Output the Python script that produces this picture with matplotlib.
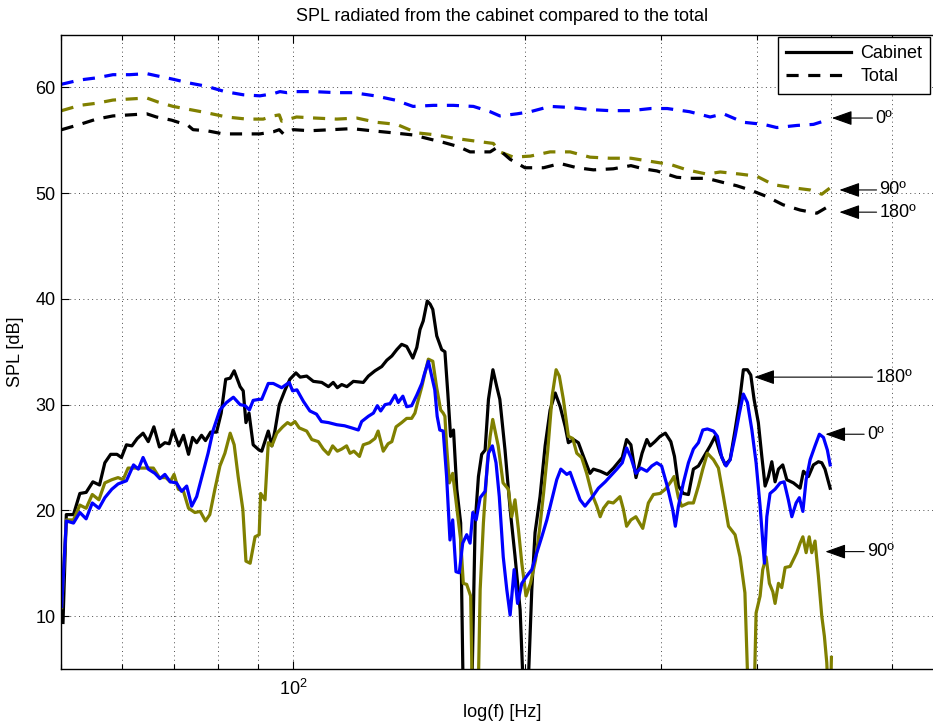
import matplotlib
matplotlib.use("Agg")
import matplotlib.pyplot as plt
from matplotlib.lines import Line2D
from matplotlib.ticker import LogLocator, NullFormatter, FixedLocator

plt.rcParams['font.family'] = ['Liberation Sans', 'DejaVu Sans']
plt.rcParams['mathtext.fontset'] = 'custom'
plt.rcParams['mathtext.rm'] = 'Liberation Sans'
plt.rcParams['mathtext.it'] = 'Liberation Sans:italic'

# ---------------- data (frequency in Hz, SPL in dB) ----------------
freq_cab180 = [50.3, 50.8, 51.9, 52.9, 53.9, 55.0, 56.1, 57.0, 58.0, 59.1,
               59.9, 60.8, 61.8, 62.8, 63.9, 64.9, 66.0, 67.1, 68.2, 69.1,
               69.9, 71.1, 72.1, 73.2, 74.1, 75.0, 76.1, 77.0, 78.2, 79.6,
               80.7, 81.8, 82.9, 83.9, 85.4, 86.2, 86.9, 87.7, 88.8, 90.4,
               91.1, 92.9, 93.9, 94.8, 96.0, 97.7, 99.1, 100.9, 102.2, 104.2,
               106.3, 109.0, 111.2, 112.8, 114.2, 115.7, 117.5, 119.8, 123.4, 125.3,
               127.8, 130.4, 132.4, 134.4, 136.4, 138.4, 140.5, 143.1, 144.8, 146.2,
               147.6, 149.4, 150.7, 151.9, 153.7, 156.0, 157.5, 158.9, 160.2, 161.6,
               163.2, 165.1, 166.4, 170.6, 172.4, 174.1, 175.8, 177.6, 179.4, 181.8,
               183.9, 185.6, 188.5, 191.4, 194.2, 197.2, 199.1, 201.9, 204.2, 206.2,
               209.3, 212.5, 215.7, 219.0, 222.3, 225.7, 227.8, 231.3, 234.7, 238.3,
               243.0, 245.5, 250.6, 255.8, 260.7, 267.6, 271.1, 274.6, 278.8, 283.9,
               288.0, 290.8, 295.0, 299.6, 304.4, 309.4, 312.8, 316.5, 321.2, 326.1,
               331.0, 336.0, 341.0, 348.0, 353.2, 358.6, 363.9, 369.4, 374.9, 379.8,
               384.3, 389.0, 392.9, 396.8, 401.9, 406.1, 410.1, 414.2, 418.4, 422.5,
               426.8, 432.3, 437.6, 446.3, 455.3, 459.9, 466.8, 473.8, 480.9, 485.8,
               490.5, 498.1]
spl_cab180 = [9.4, 19.6, 19.6, 21.6, 21.7, 22.7, 22.4, 24.5, 25.3, 25.3,
              25.0, 26.2, 26.1, 26.8, 27.3, 26.5, 27.9, 26.0, 26.4, 26.3,
              27.6, 26.1, 27.1, 25.3, 26.9, 26.4, 27.1, 26.6, 27.4, 27.4,
              29.2, 32.4, 32.5, 33.2, 31.7, 31.3, 28.3, 29.2, 26.2, 25.7,
              25.6, 27.5, 26.1, 27.6, 30.0, 31.4, 32.4, 33.0, 32.6, 32.7,
              32.2, 32.1, 31.7, 32.1, 31.6, 31.9, 31.7, 32.2, 32.1, 32.7,
              33.2, 33.6, 34.2, 34.6, 35.2, 35.7, 35.5, 34.4, 35.4, 37.1,
              37.9, 39.8, 39.5, 39.0, 36.5, 35.2, 35.0, 31.0, 27.0, 27.6,
              22.0, 18.8, 2.0, 2.0, 18.8, 23.2, 25.3, 25.7, 30.5, 33.3,
              31.7, 30.5, 25.7, 20.1, 15.7, 10.6, 3.0, 3.0, 12.5, 17.9,
              21.3, 26.1, 29.5, 31.1, 29.8, 27.9, 26.4, 26.7, 26.4, 25.1,
              23.5, 23.9, 23.7, 23.4, 24.0, 25.0, 26.7, 26.2, 23.1, 25.4,
              26.7, 26.1, 26.5, 27.0, 27.3, 26.5, 25.1, 22.3, 21.6, 21.5,
              23.9, 24.2, 25.0, 26.1, 27.0, 25.4, 24.3, 24.8, 27.6, 30.2,
              33.3, 33.3, 32.8, 30.5, 28.3, 25.1, 22.3, 23.2, 24.6, 22.7,
              23.9, 24.3, 22.9, 22.6, 22.1, 23.7, 23.2, 24.3, 24.6, 24.5,
              23.9, 22.1]

freq_cab0 = [50.1, 50.8, 51.9, 52.9, 53.9, 54.9, 56.0, 57.0, 58.2, 59.3,
             60.8, 62.1, 63.0, 63.9, 64.9, 66.2, 67.2, 68.2, 69.3, 70.6,
             71.7, 72.8, 73.9, 75.0, 76.5, 77.6, 78.8, 80.4, 82.0, 83.7,
             85.4, 86.7, 87.8, 88.8, 90.4, 91.1, 92.9, 94.3, 96.7, 98.9,
             99.9, 101.2, 103.2, 105.2, 107.3, 108.9, 111.2, 114.0, 116.7, 119.2,
             121.6, 122.8, 125.3, 127.2, 128.7, 130.0, 131.7, 133.7, 135.7, 137.0,
             138.9, 140.5, 142.6, 144.8, 147.0, 148.0, 149.9, 151.3, 152.8, 153.9,
             155.1, 156.7, 158.3, 159.9, 161.2, 162.8, 164.4, 166.1, 168.1, 169.8,
             171.2, 172.9, 175.0, 177.6, 179.4, 181.5, 183.5, 185.3, 187.5, 189.5,
             191.4, 193.7, 195.7, 198.2, 201.2, 204.2, 207.3, 210.4, 213.6, 216.8,
             220.0, 222.7, 226.7, 229.0, 232.4, 235.9, 239.4, 244.3, 249.2, 254.3,
             259.5, 263.3, 267.6, 271.1, 274.6, 278.7, 282.8, 288.0, 292.3, 296.7,
             301.0, 306.1, 311.1, 313.6, 316.5, 321.2, 326.1, 331.0, 336.0, 340.4,
             345.1, 351.4, 355.6, 360.3, 365.0, 369.4, 374.9, 379.8, 384.3, 389.0,
             394.2, 399.2, 404.0, 409.3, 412.2, 416.2, 422.5, 429.0, 434.1, 439.6,
             444.2, 449.9, 454.3, 459.1, 463.6, 469.2, 476.1, 482.3, 488.2, 494.0,
             498.1]
spl_cab0 = [10.9, 19.0, 18.8, 19.8, 19.2, 20.7, 20.2, 21.2, 22.0, 22.5,
            22.8, 24.3, 23.9, 25.0, 23.9, 23.5, 23.0, 23.4, 22.7, 22.6,
            21.8, 22.3, 20.4, 21.3, 23.7, 25.4, 27.6, 29.5, 30.2, 30.7,
            30.0, 29.9, 29.5, 30.4, 30.5, 30.5, 32.0, 32.0, 31.6, 32.1,
            31.3, 31.4, 30.3, 29.4, 29.1, 28.4, 28.3, 28.1, 28.0, 27.8,
            27.6, 28.4, 28.9, 29.2, 29.9, 29.4, 30.0, 30.1, 30.9, 30.2,
            30.8, 29.8, 29.9, 30.9, 32.0, 32.8, 34.1, 32.8, 31.4, 28.9,
            27.6, 27.5, 23.2, 17.2, 19.1, 14.2, 14.1, 16.9, 17.7, 16.9,
            19.8, 19.1, 21.2, 21.8, 25.4, 26.1, 24.5, 21.3, 15.6, 12.5,
            10.1, 14.4, 11.2, 13.1, 13.8, 14.4, 16.0, 17.5, 19.1, 21.0,
            22.9, 23.9, 23.4, 23.6, 22.3, 21.0, 20.4, 21.2, 22.1, 22.7,
            23.4, 23.9, 24.5, 25.9, 25.0, 23.5, 24.0, 23.7, 24.2, 24.5,
            24.2, 22.3, 20.1, 18.5, 20.4, 22.6, 24.5, 25.8, 26.4, 27.6,
            27.7, 27.5, 27.0, 25.0, 24.2, 24.8, 27.0, 29.2, 31.0, 30.2,
            27.6, 24.5, 20.4, 15.0, 19.4, 21.6, 22.0, 22.6, 22.7, 21.0,
            19.4, 20.7, 21.2, 19.9, 22.9, 24.8, 26.1, 27.2, 26.9, 25.7,
            24.3]

freq_cab90 = [50.1, 50.8, 51.9, 52.9, 53.9, 54.9, 56.0, 57.0, 58.2, 59.3,
              60.2, 61.1, 62.4, 63.9, 65.9, 67.1, 68.4, 69.3, 70.1, 71.0,
              72.1, 73.2, 74.6, 75.8, 77.0, 78.0, 79.2, 80.4, 81.6, 82.9,
              83.9, 84.9, 86.1, 86.9, 88.0, 89.3, 90.4, 90.8, 92.0, 92.9,
              93.9, 95.3, 97.0, 98.4, 99.4, 100.6, 101.9, 104.2, 105.8, 107.9,
              109.5, 111.2, 112.6, 114.2, 115.7, 117.4, 118.6, 120.0, 122.0, 123.4,
              125.7, 127.8, 129.0, 131.0, 132.9, 134.4, 136.1, 138.4, 140.5, 142.6,
              144.0, 145.5, 147.0, 148.4, 149.9, 151.9, 153.6, 155.5, 156.7, 157.5,
              158.3, 159.6, 161.2, 163.1, 165.1, 166.4, 168.1, 170.1, 171.0, 173.9,
              175.0, 176.7, 178.8, 180.3, 181.7, 182.9, 184.7, 187.4, 190.4, 192.3,
              194.2, 196.2, 198.2, 200.7, 203.4, 206.5, 209.0, 211.5, 214.2, 217.0,
              219.6, 221.7, 224.4, 227.8, 230.8, 233.6, 237.0, 240.6, 244.3, 248.0,
              250.5, 253.0, 256.7, 260.5, 265.8, 268.5, 271.1, 274.6, 278.7, 284.5,
              289.3, 293.7, 299.6, 304.4, 309.4, 312.4, 316.5, 319.6, 326.1, 331.0,
              336.0, 340.4, 345.1, 351.4, 356.7, 362.1, 367.6, 374.9, 380.5, 386.1,
              390.1, 396.8, 399.2, 404.0, 407.2, 411.3, 415.4, 419.7, 422.5, 426.8,
              431.0, 435.4, 441.9, 447.3, 450.8, 455.3, 459.1, 463.6, 467.9, 471.5,
              476.1, 480.9, 485.8, 489.6, 493.1, 495.7, 498.5, 500.0]
spl_cab90 = [10.8, 19.1, 19.1, 20.5, 20.2, 21.5, 21.0, 22.6, 22.9, 23.1,
             22.9, 24.0, 24.0, 24.0, 24.0, 23.1, 23.1, 22.7, 23.4, 22.0,
             21.8, 20.2, 19.8, 19.9, 19.0, 19.6, 22.0, 24.2, 25.4, 27.3,
             26.2, 23.2, 20.1, 15.2, 15.0, 17.5, 17.7, 21.6, 21.0, 26.4,
             26.1, 27.3, 27.9, 28.3, 28.1, 28.4, 27.8, 27.5, 26.7, 26.5,
             25.8, 25.3, 26.1, 25.6, 25.8, 26.1, 25.4, 25.6, 25.1, 26.2,
             26.4, 26.8, 27.5, 25.6, 26.3, 26.5, 27.9, 28.3, 28.7, 28.7,
             29.2, 30.5, 31.7, 33.0, 34.3, 34.1, 31.7, 29.5, 29.2, 28.9,
             26.1, 22.6, 23.5, 20.4, 17.2, 13.1, 13.0, 11.9, 2.0, 2.0,
             12.5, 18.8, 24.5, 27.0, 28.6, 27.6, 26.1, 22.6, 22.0, 19.4,
             21.0, 18.2, 15.0, 11.9, 13.1, 15.3, 18.2, 21.6, 25.7, 30.8,
             33.3, 32.7, 30.5, 27.0, 26.8, 25.4, 25.0, 23.5, 21.6, 20.4,
             19.4, 20.2, 20.8, 20.7, 21.3, 20.1, 18.5, 19.1, 19.4, 18.3,
             20.7, 21.5, 21.6, 22.0, 22.7, 23.2, 21.2, 20.4, 20.7, 20.7,
             22.3, 23.9, 25.4, 24.8, 24.0, 21.3, 18.5, 17.7, 15.6, 12.2,
             2.0, 2.0, 10.3, 11.9, 14.4, 15.6, 13.1, 12.3, 11.2, 13.1,
             12.7, 14.6, 14.7, 15.5, 16.0, 16.9, 17.5, 16.0, 17.5, 16.0,
             17.1, 13.8, 10.0, 8.1, 5.6, 2.0, 2.0, 6.1]

freq_tot0 = [50.1, 52.9, 55.6, 58.4, 61.4, 64.6, 66.5, 69.6, 73.5, 77.3,
             81.6, 86.2, 90.6, 94.3, 96.2, 98.2, 100.6, 106.3, 114.0, 119.8,
             127.8, 135.7, 143.2, 152.1, 161.5, 171.5, 180.3, 185.6, 195.4, 203.3,
             215.7, 229.0, 243.0, 257.8, 274.6, 291.4, 306.1, 327.2, 348.0, 362.1,
             384.3, 408.4, 424.7, 451.0, 473.8, 498.1]
spl_tot0 = [60.3, 60.7, 60.9, 61.2, 61.2, 61.3, 61.1, 60.8, 60.4, 60.1,
            59.6, 59.3, 59.2, 59.4, 59.6, 59.5, 59.6, 59.6, 59.5, 59.5,
            59.2, 58.8, 58.2, 58.3, 58.3, 58.2, 57.7, 57.3, 57.5, 57.7,
            58.2, 58.1, 57.9, 57.8, 57.8, 58.0, 58.0, 57.7, 57.2, 57.5,
            56.7, 56.5, 56.2, 56.4, 56.5, 57.0]

freq_tot90 = [50.1, 52.9, 55.6, 58.4, 61.4, 64.6, 66.9, 69.9, 73.5, 77.3,
              82.0, 87.1, 91.5, 94.3, 96.0, 96.7, 101.1, 106.8, 114.0, 121.0,
              128.3, 136.4, 144.8, 153.6, 161.5, 173.3, 182.0, 185.6, 193.3, 203.3,
              215.7, 229.0, 243.0, 257.8, 274.6, 291.4, 309.4, 324.6, 344.6, 358.6,
              380.5, 400.0, 420.3, 446.3, 469.2, 485.8, 498.1]
spl_tot90 = [57.8, 58.3, 58.5, 58.8, 58.9, 59.0, 58.6, 58.2, 57.9, 57.6,
             57.2, 57.0, 57.0, 57.3, 57.4, 56.8, 57.2, 57.1, 57.0, 57.1,
             56.7, 56.5, 55.7, 55.5, 55.2, 54.9, 54.7, 53.9, 53.4, 53.5,
             53.9, 53.9, 53.4, 53.3, 53.3, 53.0, 52.7, 52.2, 51.8, 52.0,
             51.8, 51.6, 50.8, 50.5, 50.3, 49.9, 50.5]

freq_tot180 = [50.1, 52.9, 55.6, 58.4, 61.4, 64.6, 66.5, 69.6, 73.1, 74.2,
               77.3, 81.2, 85.8, 90.6, 94.3, 96.0, 97.2, 100.1, 105.2, 112.3,
               119.2, 126.5, 135.0, 143.2, 150.7, 156.7, 164.0, 169.8, 180.3, 183.9,
               191.4, 200.1, 211.5, 222.3, 233.8, 245.5, 260.5, 274.6, 285.0, 296.7,
               314.9, 327.2, 344.6, 362.1, 376.7, 392.0, 411.5, 432.6, 455.3, 478.6,
               497.0]
spl_tot180 = [56.0, 56.5, 57.0, 57.3, 57.4, 57.5, 57.2, 56.9, 56.4, 56.0,
              55.9, 55.6, 55.6, 55.6, 55.8, 56.0, 55.6, 56.0, 55.9, 56.0,
              56.1, 55.9, 55.7, 55.5, 55.1, 54.8, 54.4, 53.9, 53.9, 54.3,
              53.2, 52.4, 52.4, 52.8, 52.4, 52.2, 52.3, 52.6, 52.3, 52.1,
              51.5, 51.4, 51.4, 51.0, 50.7, 50.3, 49.7, 48.9, 48.4, 48.1,
              48.8]

legend_labels = ["Cabinet", "Total"]
y_ticks = [10, 20, 30, 40, 50, 60]

# ---------------- figure ----------------
W, H = 933, 724
fig = plt.figure(figsize=(W / 100, H / 100), dpi=100)
ax = fig.add_axes([61 / W, 1 - 669 / H, (944 - 61) / W, (669 - 34.5) / H])

C_BLUE = (0, 0, 1)
C_OLIVE = (0.5, 0.5, 0)
C_BLACK = (0, 0, 0)
LW = 2.3
DASH = (0, (3.8, 3.0))

ax.plot(freq_tot0, spl_tot0, color=C_BLUE, lw=LW, linestyle=DASH)
ax.plot(freq_tot90, spl_tot90, color=C_OLIVE, lw=LW, linestyle=DASH)
ax.plot(freq_tot180, spl_tot180, color=C_BLACK, lw=LW, linestyle=DASH)
ax.plot(freq_cab180, spl_cab180, color=C_BLACK, lw=LW)
ax.plot(freq_cab90, spl_cab90, color=C_OLIVE, lw=LW)
ax.plot(freq_cab0, spl_cab0, color=C_BLUE, lw=LW)

ax.set_xscale('log')
ax.set_xlim(50, 700)
ax.set_ylim(5, 65)
ax.set_yticks(y_ticks)
ax.xaxis.set_major_locator(FixedLocator([100, 1000]))
ax.xaxis.set_minor_locator(LogLocator(base=10, subs=[2, 3, 4, 5, 6, 7, 8, 9]))
ax.xaxis.set_minor_formatter(NullFormatter())

FS = 13
ax.tick_params(which='both', direction='in', top=True, right=True, labelsize=FS)
ax.tick_params(which='major', length=6, width=0.8)
ax.tick_params(which='minor', length=3.5, width=0.8)
ax.tick_params(axis='x', which='major', pad=7)
ax.tick_params(axis='y', which='major', pad=4)

grid_style = dict(linestyle=(0, (1, 3.5)), color='0.3', lw=0.7)
ax.grid(True, which='major', axis='both', **grid_style)
ax.grid(True, which='minor', axis='x', **grid_style)
ax.set_axisbelow(True)
for s in ax.spines.values():
    s.set_linewidth(1.0)

ax.set_title("SPL radiated from the cabinet compared to the total", fontsize=FS, pad=10)
ax.set_xlabel("log(f) [Hz]", fontsize=FS, labelpad=4)
ax.set_ylabel("SPL [dB]", fontsize=FS, labelpad=8)

handles = [Line2D([], [], color='black', lw=LW),
           Line2D([], [], color='black', lw=LW, linestyle=DASH)]
leg = fig.legend(handles, legend_labels, loc='upper left',
                 bbox_to_anchor=(778 / W, 1 - 37 / H), bbox_transform=fig.transFigure,
                 fontsize=FS, frameon=True, fancybox=False, framealpha=1,
                 edgecolor='black', borderpad=0.45, labelspacing=0.35,
                 handlelength=3.6, handletextpad=0.5, borderaxespad=0)
leg.get_frame().set_linewidth(1.0)

arrow = dict(arrowstyle='-|>,head_length=0.9,head_width=0.32', color='black',
             lw=0.8, shrinkA=0, shrinkB=0, mutation_scale=14)
annots = [("0º", (500.6, 57.1), (570, 57.1)),
          ("90º", (512, 50.3), (577, 50.3)),
          ("180º", (512, 48.2), (577, 48.2)),
          ("180º", (397, 32.6), (570, 32.6)),
          ("0º", (491, 27.2), (556, 27.2)),
          ("90º", (491, 16.1), (556, 16.1))]
for txt, tip, tpos in annots:
    ax.annotate(txt, xy=tip, xytext=tpos, textcoords='data', ha='left', va='center',
                fontsize=FS, arrowprops=arrow, annotation_clip=False)

fig.savefig("out.png", dpi=100)
